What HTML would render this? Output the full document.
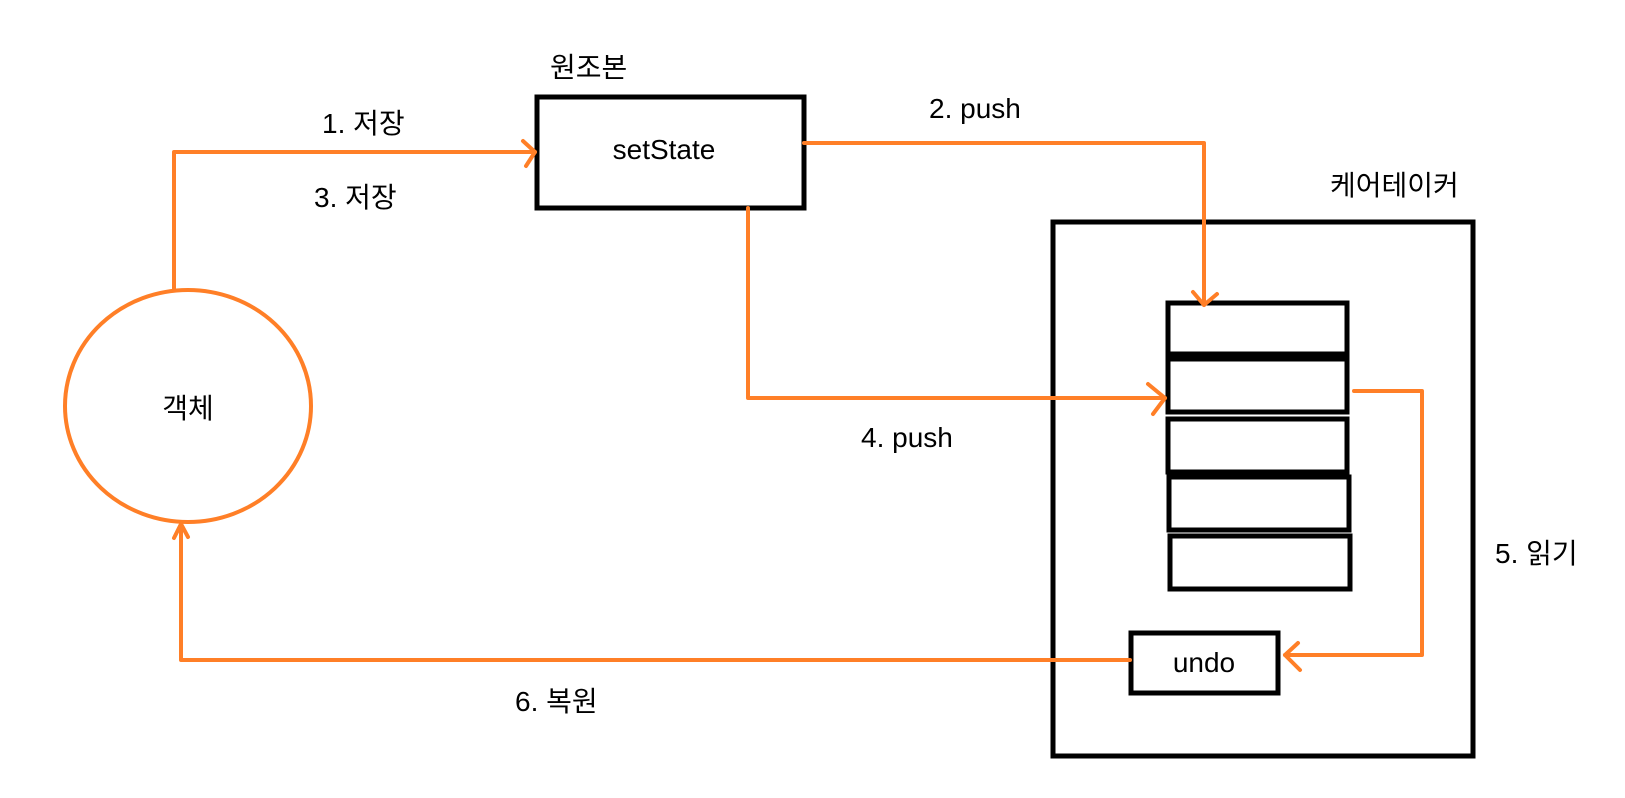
<!DOCTYPE html>
<html><head><meta charset="utf-8"><style>
html,body{margin:0;padding:0;background:#fff;}
svg{display:block;}
text{font-family:"Liberation Sans","Noto Sans CJK KR","NanumGothic",sans-serif;font-size:28px;fill:#000;}
</style></head><body>
<svg width="1625" height="798" viewBox="0 0 1625 798" xmlns="http://www.w3.org/2000/svg">
<g fill="none" stroke="#000" stroke-width="5">
<rect x="537" y="97" width="267" height="111"/>
<rect x="1053" y="222" width="420" height="534"/>
<rect x="1168" y="303" width="179" height="51"/>
<rect x="1168" y="359" width="179" height="53"/>
<rect x="1168" y="419" width="179" height="53"/>
<rect x="1169" y="477" width="180" height="53"/>
<rect x="1170" y="536" width="180" height="53"/>
<rect x="1131" y="633" width="147" height="60"/>
</g>
<g fill="none" stroke="#FF7F27" stroke-width="4" stroke-linecap="round" stroke-linejoin="round">
<ellipse cx="188" cy="406" rx="123" ry="116"/>
<polyline points="174,290 174,152 535,152"/>
<polyline points="523,141 535,152 526,166"/>
<polyline points="804,143 1204,143 1204,305"/>
<polyline points="1193,292 1204,305 1217,294"/>
<polyline points="748,208 748,398 1165,398"/>
<polyline points="1148,384 1165,398 1153,414"/>
<polyline points="1354,391 1422,391 1422,655 1285,655"/>
<polyline points="1298,643 1285,655 1300,670"/>
<polyline points="1130,660 181,660 181,524"/>
<polyline points="174,538 181,524 188,537"/>
</g>
<text x="550" y="77">원조본</text>
<text x="322" y="133">1. 저장</text>
<text x="314" y="207">3. 저장</text>
<text x="664" y="159" text-anchor="middle">setState</text>
<text x="188" y="418" text-anchor="middle">객체</text>
<text x="929" y="118">2. push</text>
<text x="861" y="447">4. push</text>
<text x="515" y="711">6. 복원</text>
<text x="1330" y="195">케어테이커</text>
<text x="1495" y="563">5. 읽기</text>
<text x="1204" y="672" text-anchor="middle">undo</text>
</svg>
</body></html>
